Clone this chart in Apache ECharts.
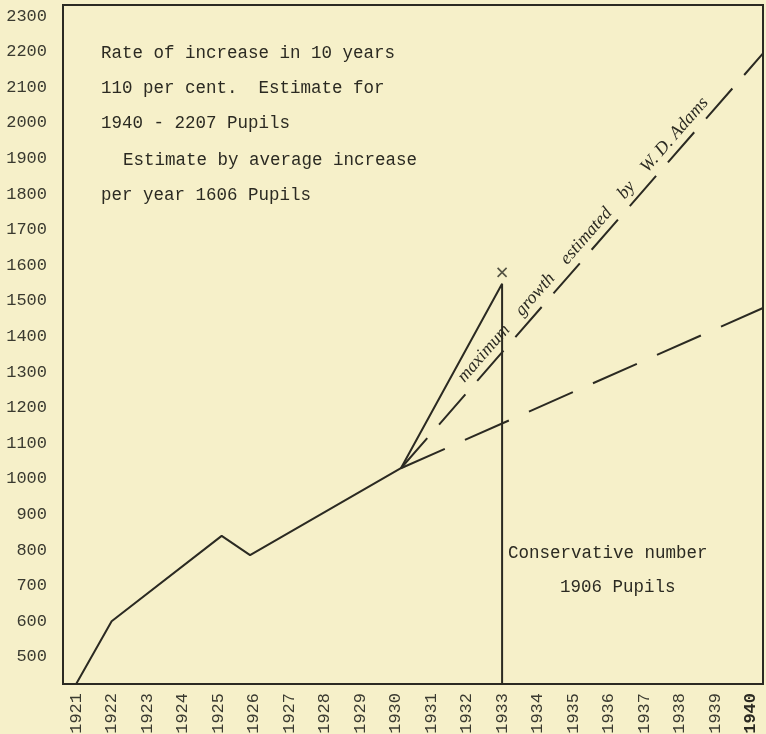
<!DOCTYPE html>
<html>
<head>
<meta charset="utf-8">
<script src="https://cdn.jsdelivr.net/npm/echarts@6/dist/echarts.min.js"></script>
<style>
html, body { margin: 0; padding: 0; background: #f6f0c9; }
#chart { width: 766px; height: 734px; }
</style>
</head>
<body>
<div id="chart"></div>
<script>
// tick labels
var yearLabels = [1921, 1922, 1923, 1924, 1925, 1926, 1927, 1928, 1929, 1930,
                  1931, 1932, 1933, 1934, 1935, 1936, 1937, 1938, 1939, 1940];
var pupilLabels = [500, 600, 700, 800, 900, 1000, 1100, 1200, 1300, 1400, 1500,
                   1600, 1700, 1800, 1900, 2000, 2100, 2200, 2300];

// enrolment actually recorded
var actualYears = [1921, 1922, 1925.1, 1925.9, 1930.15];
var actualPupils = [424, 600, 840, 786, 1030];

// maximum growth (triangle up to 1933 and the drop line)
var maxYears = [1930.15, 1933, 1933];
var maxPupils = [1030, 1548, 424];

// estimate by rate of increase
var rateYears = [1930.15, 1940.35];
var ratePupils = [1030, 2195];

// estimate by average increase per year
var avgYears = [1930.15, 1940.35];
var avgPupils = [1030, 1480];

// the "x" mark above 1933
var markYears = [1933];
var markPupils = [1580];

var ink = '#2b2a22';
var mono = 'Liberation Mono';

function pairs(xs, ys) {
    var out = [];
    for (var i = 0; i < xs.length; i++) out.push([xs[i], ys[i]]);
    return out;
}

function note(id, text, x, y) {
    return {
        id: id,
        type: 'text',
        style: {
            text: text, x: x, y: y,
            font: '17.5px "' + mono + '"',
            fill: ink,
            textVerticalAlign: 'middle', verticalAlign: 'middle'
        }
    };
}

var chart = echarts.init(document.getElementById('chart'));

var option = {
    backgroundColor: '#f6f0c9',
    animation: false,
    grid: {
        left: 63, right: 3, top: 5, bottom: 50,
        outerBoundsMode: 'none',
        containLabel: false,
        show: true, borderColor: ink, borderWidth: 2
    },
    xAxis: {
        type: 'value',
        min: 1920.63, max: 1940.35,
        axisLine: { show: false },
        axisTick: { show: false },
        splitLine: { show: false },
        axisLabel: {
            customValues: yearLabels,
            rotate: 90,
            margin: 9,
            color: '#3a3a30',
            fontFamily: mono,
            fontSize: 17,
            formatter: function (v) {
                return v === 1940 ? '{b|' + v + '}' : String(v);
            },
            rich: { b: { fontWeight: 'bold', fontFamily: mono, fontSize: 17, color: ink } }
        }
    },
    yAxis: {
        type: 'value',
        min: 424, max: 2331,
        axisLine: { show: false },
        axisTick: { show: false },
        splitLine: { show: false },
        axisLabel: {
            customValues: pupilLabels,
            margin: 16,
            color: '#3a3a30',
            fontFamily: mono,
            fontSize: 17,
            formatter: function (v) { return String(v); }
        }
    },
    series: [
        {
            name: 'Actual', type: 'line', symbol: 'none',
            data: pairs(actualYears, actualPupils),
            lineStyle: { color: ink, width: 2 }
        },
        {
            name: 'Maximum growth', type: 'line', symbol: 'none',
            data: pairs(maxYears, maxPupils),
            lineStyle: { color: ink, width: 2 }
        },
        {
            name: 'Rate estimate', type: 'line', symbol: 'none',
            data: pairs(rateYears, ratePupils),
            lineStyle: { color: ink, width: 2, type: [40, 18] }
        },
        {
            name: 'Average estimate', type: 'line', symbol: 'none',
            data: pairs(avgYears, avgPupils),
            lineStyle: { color: ink, width: 2, type: [48, 22] }
        },
        {
            name: 'Mark', type: 'scatter',
            symbol: 'path://M0 0L10 10M10 0L0 10',
            symbolSize: 9,
            data: pairs(markYears, markPupils),
            itemStyle: { color: 'transparent', borderColor: ink, borderWidth: 1.6 }
        }
    ],
    graphic: [
        note('n1', 'Rate of increase in 10 years', 101, 53),
        note('n2', '110 per cent.  Estimate for', 101, 88),
        note('n3', '1940 - 2207 Pupils', 101, 123),
        note('n4', 'Estimate by average increase', 123, 160),
        note('n5', 'per year 1606 Pupils', 101, 195),
        note('n6', 'Conservative number', 508, 553),
        note('n7', '1906 Pupils', 560, 587)
    ]
};

chart.setOption(option);

// handwritten remark along the rate-estimate line
var p0 = chart.convertToPixel({ gridIndex: 0 }, [rateYears[0], ratePupils[0]]);
var p1 = chart.convertToPixel({ gridIndex: 0 }, [rateYears[1], ratePupils[1]]);
var dx = p1[0] - p0[0], dy = p1[1] - p0[1];
var len = Math.sqrt(dx * dx + dy * dy);
var t = 0.53;
var cx = p0[0] + dx * t + (dy / len) * 4;
var cy = p0[1] + dy * t - (dx / len) * 4;
chart.setOption({
    graphic: [{
        id: 'hand',
        type: 'text',
        x: cx, y: cy,
        rotation: Math.atan2(-dy, dx),
        style: {
            text: 'maximum    growth    estimated    by    W. D. Adams',
            x: 0, y: 0,
            font: 'italic 18px "Liberation Serif"',
            fill: ink,
            textAlign: 'center', align: 'center',
            textVerticalAlign: 'bottom', verticalAlign: 'bottom'
        }
    }]
});
</script>
</body>
</html>
